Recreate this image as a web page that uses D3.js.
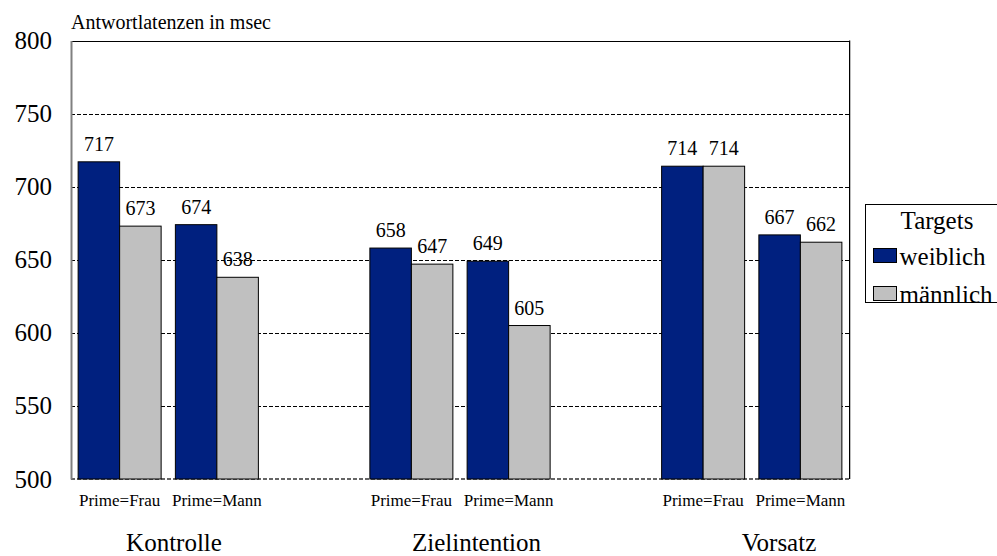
<!DOCTYPE html>
<html>
<head>
<meta charset="utf-8">
<script src="https://cdn.jsdelivr.net/npm/d3@7"></script>
<style>
  html, body { margin: 0; padding: 0; background: #fff; }
  svg text { font-family: "Liberation Serif", "Times New Roman", Times, serif; }
</style>
</head>
<body>
<svg id="chart" width="997" height="556"></svg>
<script>
// Conditions and prime types
const groups = ["Kontrolle", "Zielintention", "Vorsatz"];
const primes = ["Prime=Frau", "Prime=Mann"];
const seriesNames = ["weiblich", "männlich"];
// Response latencies (msec) per condition × prime, in order of groups then primes
const weiblich = [717, 674, 658, 649, 714, 667];
const maennlich = [673, 638, 647, 605, 714, 662];
const yTicks = [500, 550, 600, 650, 700, 750, 800];
const colors = ["#00207f", "#c0c0c0"];

const svg = d3.select("#chart");
const plotLeft = 71, plotRight = 849, plotTop = 40.5, plotBottom = 479;

// Category slots: two primes per condition, with an empty slot separating conditions
const slots = [];
groups.forEach((g, gi) => {
  primes.forEach(p => slots.push(g + "|" + p));
  if (gi < groups.length - 1) slots.push("gap" + gi);
});

const x = d3.scaleBand().domain(slots).range([plotLeft, plotRight])
  .paddingInner(0.1465).paddingOuter(0.0733);
const xs = d3.scaleBand().domain(seriesNames).range([0, x.bandwidth()]);
const y = d3.scaleLinear().domain([500, 800]).range([plotBottom, plotTop]);

// Gridlines
const grid = svg.append("g");
grid.selectAll("line.g").data(yTicks.filter(t => t > 500 && t < 800)).join("line")
  .attr("x1", plotLeft).attr("x2", plotRight)
  .attr("y1", d => Math.round(y(d)) + 0.5).attr("y2", d => Math.round(y(d)) + 0.5)
  .attr("stroke", "#000").attr("stroke-width", 1).attr("stroke-dasharray", "4,2");
// Category baseline
grid.append("line")
  .attr("x1", plotLeft).attr("x2", plotRight)
  .attr("y1", y(500)).attr("y2", y(500))
  .attr("stroke", "#333").attr("stroke-width", 1.5).attr("stroke-dasharray", "4,2");
// Top and right frame
grid.append("line").attr("x1", plotLeft).attr("x2", plotRight + 0.5)
  .attr("y1", Math.round(y(800)) + 0.5).attr("y2", Math.round(y(800)) + 0.5)
  .attr("stroke", "#000");
grid.append("line").attr("x1", plotRight + 0.5).attr("x2", plotRight + 0.5)
  .attr("y1", y(800)).attr("y2", y(500))
  .attr("stroke", "#000");
grid.append("line").attr("x1", plotRight + 1.5).attr("x2", plotRight + 1.5)
  .attr("y1", y(800)).attr("y2", y(500))
  .attr("stroke", "#bbb");

// Bars
const rows = [];
groups.forEach((g, gi) => primes.forEach((p, pi) => {
  const i = gi * primes.length + pi;
  rows.push({ slot: g + "|" + p, series: "weiblich", value: weiblich[i], color: colors[0] });
  rows.push({ slot: g + "|" + p, series: "männlich", value: maennlich[i], color: colors[1] });
}));

const bars = svg.append("g");
bars.selectAll("rect").data(rows).join("rect")
  .attr("x", d => x(d.slot) + xs(d.series))
  .attr("y", d => y(d.value))
  .attr("width", xs.bandwidth())
  .attr("height", d => y(500) - y(d.value))
  .attr("fill", d => d.color)
  .attr("stroke", "#000").attr("stroke-width", 1);

// Value labels
bars.selectAll("text").data(rows).join("text")
  .attr("x", d => x(d.slot) + xs(d.series) + xs.bandwidth() / 2)
  .attr("y", d => y(d.value) - 11)
  .attr("text-anchor", "middle")
  .attr("font-size", 20)
  .attr("fill", "#000")
  .text(d => d.value);

// Value axis
const yAxis = svg.append("g").attr("transform", `translate(${plotLeft},0)`)
  .call(d3.axisLeft(y).tickValues(yTicks).tickSize(0).tickPadding(19));
yAxis.select(".domain").attr("stroke", "#808080").attr("stroke-width", 2);
yAxis.attr("font-size", null).attr("font-family", null);
yAxis.selectAll("text").attr("font-size", 25).attr("fill", "#000");

// Prime labels under each pair of bars
const xAxis = svg.append("g").attr("transform", `translate(0,${plotBottom})`)
  .call(d3.axisBottom(x).tickValues(slots.filter(s => s.indexOf("|") > 0))
    .tickSize(0).tickPadding(15).tickFormat(s => s.split("|")[1]));
xAxis.select(".domain").remove();
xAxis.attr("font-size", null).attr("font-family", null);
xAxis.selectAll("text").attr("font-size", 17).attr("fill", "#000");

// Condition labels
const gx = d3.scalePoint().domain(groups).range([174, 779]);
svg.append("g").selectAll("text").data(groups).join("text")
  .attr("x", d => gx(d)).attr("y", 551)
  .attr("text-anchor", "middle").attr("font-size", 25).attr("fill", "#000")
  .text(d => d);

// Axis title
svg.append("text").attr("x", 71).attr("y", 29)
  .attr("font-size", 20).attr("fill", "#000")
  .text("Antwortlatenzen in msec");

// Legend
const lg = svg.append("g");
lg.append("rect").attr("x", 865.5).attr("y", 204.5).attr("width", 140).attr("height", 98)
  .attr("fill", "#fff").attr("stroke", "#000");
lg.append("text").attr("x", 937).attr("y", 229).attr("text-anchor", "middle")
  .attr("font-size", 25).text("Targets");
const items = lg.selectAll("g.item").data(seriesNames).join("g")
  .attr("transform", (d, i) => `translate(873.5,${248.5 + i * 38})`);
items.append("rect").attr("width", 23).attr("height", 14)
  .attr("fill", (d, i) => colors[i]).attr("stroke", "#000");
items.append("text").attr("x", 26).attr("y", 16).attr("font-size", 25).text(d => d);
</script>
</body>
</html>
